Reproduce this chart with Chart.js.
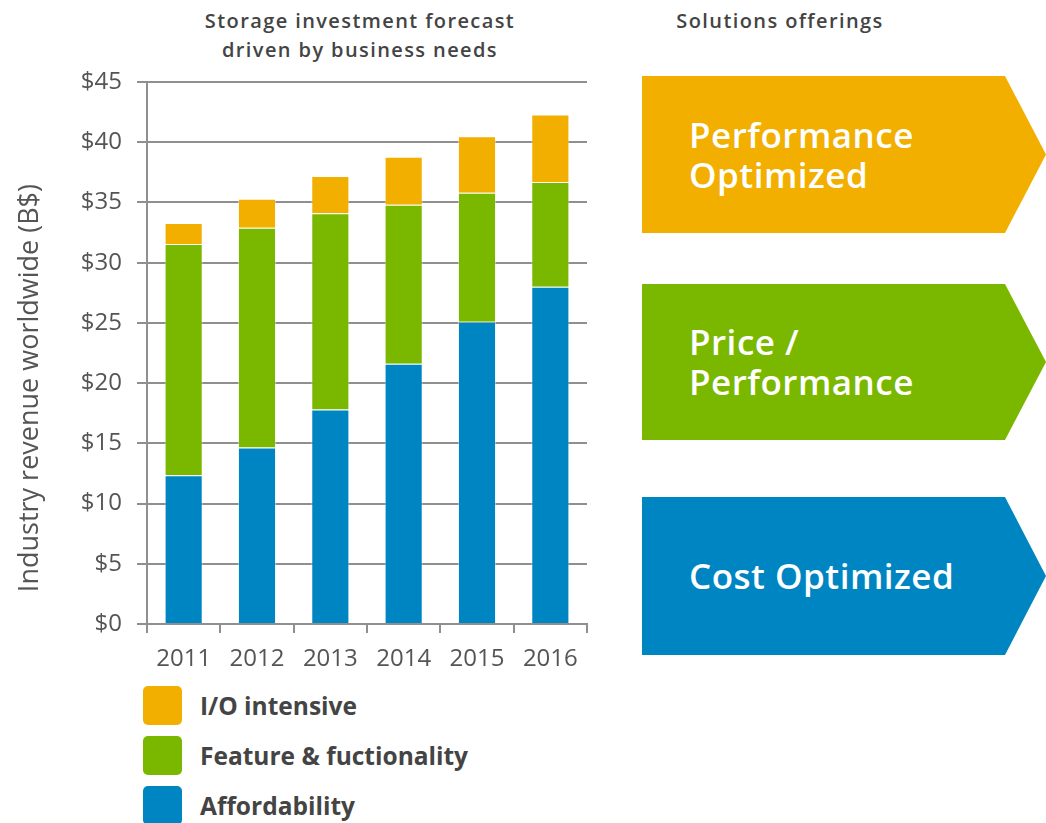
<!DOCTYPE html>
<html>
<head>
<meta charset="utf-8">
<script src="https://cdn.jsdelivr.net/npm/chart.js@4/dist/chart.umd.min.js"></script>
<style>
  body { margin: 0; background: #fff; font-family: 'Open Sans', sans-serif; }
  #wrap { position: relative; width: 1046px; height: 823px; overflow: hidden; }
  #chartBox { position: absolute; left: 0; top: 0; width: 600px; height: 680px; }
  .head { position: absolute; color: #444; font-weight: 600; font-size: 20px; letter-spacing: 1.4px; text-align: center; line-height: 29px; }
  .legend { position: absolute; left: 143px; top: 686px; }
  .legend div { height: 39px; margin-bottom: 11px; display: flex; align-items: center; color: #444; font-weight: 700; font-size: 24.5px; }
  .legend span { display: inline-block; width: 39px; height: 39px; border-radius: 5px; margin-right: 18px; }
  .arrow { position: absolute; left: 642px; width: 404px; color: #fff; font-weight: 600; font-size: 35px; letter-spacing: 0.5px; line-height: 40px;
           clip-path: polygon(0 0, 363px 0, 100% 50%, 363px 100%, 0 100%); display: flex; align-items: center; padding-left: 47px; box-sizing: border-box; }
</style>
</head>
<body>
<div id="wrap">
  <div class="head" style="left:160px; top:6px; width:400px;">Storage investment forecast<br>driven by business needs</div>
  <div class="head" style="left:630px; top:6px; width:300px;">Solutions offerings</div>
  <div id="chartBox"><canvas id="chart"></canvas></div>
  <div class="legend" id="legend"></div>
  <div class="arrow" style="top:76px; height:157px; background:#F2AF00;">Performance<br>Optimized</div>
  <div class="arrow" style="top:284px; height:156px; background:#7AB800;">Price /<br>Performance</div>
  <div class="arrow" style="top:497px; height:158px; background:#0085C3;">Cost Optimized</div>
</div>
<script>
// Values (billions of dollars, stacked).
const years = ['2011', '2012', '2013', '2014', '2015', '2016'];
const affordability = [12.35, 14.65, 17.8, 21.6, 25.1, 28.0];
const featureFunctionality = [19.2, 18.25, 16.3, 13.2, 10.7, 8.7];
const ioIntensive = [1.75, 2.4, 3.1, 4.0, 4.7, 5.6];
const yTicks = [0, 5, 10, 15, 20, 25, 30, 35, 40, 45];

const seriesNames = ['Affordability', 'Feature & fuctionality', 'I/O intensive'];
const seriesColors = ['#0085C3', '#7AB800', '#F2AF00'];

const gridGrey = '#8f8f8f';
Chart.defaults.font.family = "'Open Sans', sans-serif";
Chart.defaults.color = '#555';

const datasets = [affordability, featureFunctionality, ioIntensive].map((values, i) => ({
    label: seriesNames[i],
    data: values,
    backgroundColor: seriesColors[i],
    borderColor: 'rgba(255, 255, 255, 0.45)',
    borderWidth: 1,
    barPercentage: 0.52,
    categoryPercentage: 1.0
}));

new Chart(document.getElementById('chart'), {
    type: 'bar',
    data: { labels: years, datasets: datasets },
    options: {
        responsive: true,
        maintainAspectRatio: false,
        animation: false,
        layout: { padding: { top: 82, right: 13, left: 0, bottom: 0 } },
        plugins: {
            legend: { display: false },
            tooltip: { enabled: false }
        },
        scales: {
            x: {
                stacked: true,
                offset: true,
                afterFit: axis => { axis.height = 56; },
                border: { display: true, color: gridGrey, width: 2 },
                grid: { drawOnChartArea: false, tickLength: 9, color: gridGrey, lineWidth: 2, offset: true },
                ticks: { font: { size: 24 }, color: '#555', padding: 12 }
            },
            y: {
                stacked: true,
                min: 0,
                max: 45,
                afterBuildTicks: axis => { axis.ticks = yTicks.map(v => ({ value: v })); },
                afterFit: axis => { axis.width = 147; },
                border: { display: true, color: gridGrey, width: 2 },
                grid: { color: gridGrey, lineWidth: 2, tickLength: 10 },
                ticks: {
                    font: { size: 24 },
                    color: '#555',
                    padding: 15,
                    callback: v => '$' + v
                },
                title: {
                    display: true,
                    // trailing spaces push the rotated text down, as in the reference
                    text: 'Industry revenue worldwide (B$)          ',
                    font: { size: 27 },
                    color: '#555',
                    padding: { top: 14, bottom: 0 }
                }
            }
        }
    }
});

// HTML legend, top to bottom as in the reference.
const legendEl = document.getElementById('legend');
[2, 1, 0].forEach(i => {
    const row = document.createElement('div');
    row.innerHTML = '<span style="background:' + seriesColors[i] + '"></span>' + seriesNames[i].replace('&', '&amp;');
    legendEl.appendChild(row);
});
</script>
</body>
</html>
